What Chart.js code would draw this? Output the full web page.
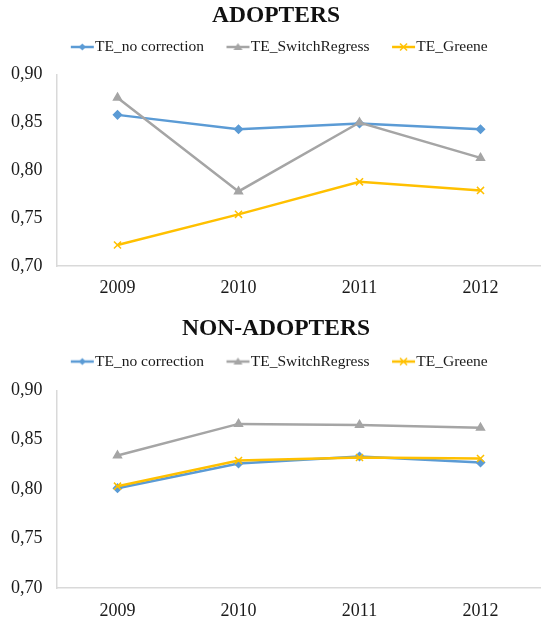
<!DOCTYPE html>
<html>
<head>
<meta charset="utf-8">
<script src="https://cdn.jsdelivr.net/npm/chart.js@4.4.1/dist/chart.umd.min.js"></script>
<style>
  html, body { margin: 0; padding: 0; background: #fff; overflow: hidden; }
  .box { position: absolute; left: 0; width: 557px; }
  #top { top: 0; height: 314px; }
  #bottom { top: 313px; height: 306px; }
</style>
</head>
<body>
<div class="box" id="top"><canvas id="adopters"></canvas></div>
<div class="box" id="bottom"><canvas id="nonadopters"></canvas></div>
<script>
// data
const years = ['2009', '2010', '2011', '2012'];
const seriesNames = ['TE_no correction', 'TE_SwitchRegress', 'TE_Greene'];

const adoptersNoCorrection = [0.858, 0.843, 0.849, 0.843];
const adoptersSwitchRegress = [0.876, 0.778, 0.850, 0.813];
const adoptersGreene = [0.722, 0.754, 0.788, 0.779];

const nonAdoptersNoCorrection = [0.801, 0.826, 0.833, 0.827];
const nonAdoptersSwitchRegress = [0.834, 0.866, 0.865, 0.862];
const nonAdoptersGreene = [0.803, 0.829, 0.832, 0.831];

const yTicks = [0.70, 0.75, 0.80, 0.85, 0.90];

const colors = ['#5B9BD5', '#A5A5A5', '#FFC000'];
const markers = ['rectRot', 'triangle', 'crossRot'];
const markerSizes = [4, 4.5, 5];
const serif = '"Liberation Serif", "Times New Roman", serif';
const textColor = '#1a1a1a';

// little line + marker sample for the legend
function legendIcon(color, marker) {
    const c = document.createElement('canvas');
    c.width = 44;
    c.height = 12;
    const g = c.getContext('2d');
    g.strokeStyle = color;
    g.fillStyle = color;
    g.lineWidth = 2.5;
    g.beginPath();
    g.moveTo(20, 6);
    g.lineTo(43, 6);
    g.stroke();
    const cx = 31.5, cy = 6;
    g.lineWidth = 1.5;
    g.beginPath();
    if (marker === 'rectRot') {
        g.moveTo(cx, cy - 3.5); g.lineTo(cx + 3.5, cy); g.lineTo(cx, cy + 3.5); g.lineTo(cx - 3.5, cy);
        g.closePath(); g.fill();
    } else if (marker === 'triangle') {
        g.moveTo(cx, cy - 4); g.lineTo(cx + 4.5, cy + 3); g.lineTo(cx - 4.5, cy + 3);
        g.closePath(); g.fill();
    } else {
        g.moveTo(cx - 3.5, cy - 3.5); g.lineTo(cx + 3.5, cy + 3.5);
        g.moveTo(cx + 3.5, cy - 3.5); g.lineTo(cx - 3.5, cy + 3.5);
        g.stroke();
    }
    return c;
}
const legendIcons = colors.map((c, i) => legendIcon(c, markers[i]));

function makeChart(id, title, series, layout) {
    // extra room under the legend, and a small sideways nudge
    const legendTweak = {
        id: 'legendTweak',
        beforeInit(chart) {
            const legend = chart.legend;
            const fit = legend.fit;
            const draw = legend.draw;
            legend.fit = function () {
                fit.call(legend);
                legend.height += layout.legendGap;
            };
            legend.draw = function (...args) {
                legend.ctx.save();
                legend.ctx.translate(layout.legendShift, 0);
                draw.apply(legend, args);
                legend.ctx.restore();
            };
        }
    };

    return new Chart(document.getElementById(id), {
        type: 'line',
        data: {
            labels: years,
            datasets: series.map((values, i) => ({
                label: seriesNames[i],
                data: values,
                borderColor: colors[i],
                backgroundColor: colors[i],
                borderWidth: 2.5,
                pointStyle: markers[i],
                pointRadius: markerSizes[i],
                pointBorderWidth: 1.5,
                tension: 0,
                order: series.length - i // later series on top, like the original
            }))
        },
        options: {
            responsive: true,
            maintainAspectRatio: false,
            animation: false,
            layout: { padding: { left: 11, right: 16, top: 0, bottom: 0 } },
            plugins: {
                title: {
                    display: true,
                    text: title,
                    color: '#111',
                    font: { family: serif, size: 23.5, weight: 'bold' },
                    padding: { top: 2, bottom: layout.titleGap }
                },
                legend: {
                    labels: {
                        usePointStyle: true,
                        pointStyleWidth: 29,
                        padding: 10,
                        color: textColor,
                        font: { family: serif, size: 15.5 },
                        generateLabels: (chart) => chart.data.datasets.map((ds, i) => ({
                            text: ds.label,
                            fillStyle: colors[i],
                            strokeStyle: colors[i],
                            fontColor: textColor,
                            lineWidth: 0,
                            pointStyle: legendIcons[i],
                            hidden: false,
                            datasetIndex: i
                        }))
                    }
                },
                tooltip: { enabled: false }
            },
            scales: {
                x: {
                    offset: true,
                    grid: { display: false, drawTicks: false },
                    border: { display: true, color: '#d9d9d9', width: 1.5 },
                    ticks: { color: textColor, font: { family: serif, size: 18 }, padding: layout.xPad },
                    afterFit: (scale) => { scale.height = layout.axisHeight; }
                },
                y: {
                    min: 0.70,
                    max: 0.90,
                    grid: { display: false, drawTicks: false },
                    border: { display: true, color: '#d9d9d9', width: 1.5 },
                    afterBuildTicks: (scale) => { scale.ticks = yTicks.map(v => ({ value: v })); },
                    ticks: {
                        color: textColor,
                        font: { family: serif, size: 18 },
                        crossAlign: 'far',
                        callback: (v) => Number(v).toFixed(2).replace('.', ',')
                    },
                    afterFit: (scale) => { scale.width = 46; }
                }
            }
        },
        plugins: [legendTweak]
    });
}

makeChart('adopters', 'ADOPTERS',
    [adoptersNoCorrection, adoptersSwitchRegress, adoptersGreene],
    { titleGap: -1, legendGap: 10, legendShift: -3, axisHeight: 48, xPad: 11 });

makeChart('nonadopters', 'NON-ADOPTERS',
    [nonAdoptersNoCorrection, nonAdoptersSwitchRegress, nonAdoptersGreene],
    { titleGap: 0.6, legendGap: 11, legendShift: -3, axisHeight: 31, xPad: 12 });
</script>
</body>
</html>
